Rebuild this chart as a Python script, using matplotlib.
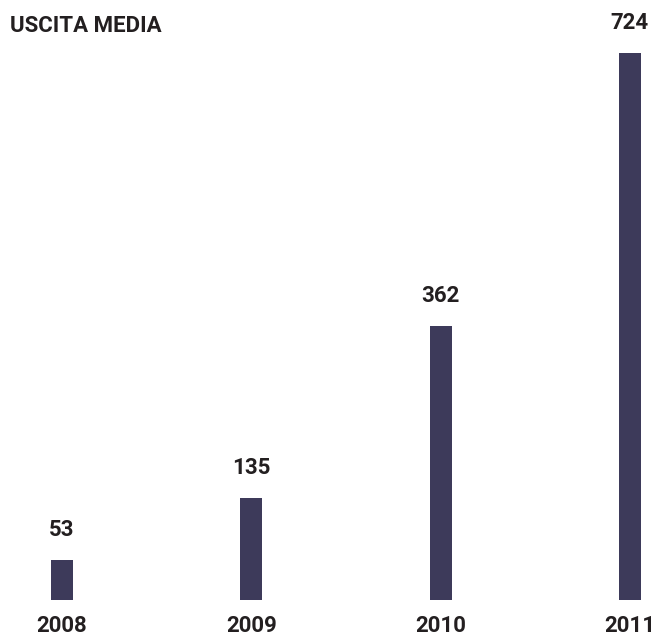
import matplotlib.pyplot as plt

years = ['2008', '2009', '2010', '2011']
values = [53, 135, 362, 724]

bar_color = '#3d3a5a'
text_color = '#231f20'
plt.rcParams['font.family'] = ['Roboto', 'DejaVu Sans']

W, H = 656, 636
fig = plt.figure(figsize=(W / 100, H / 100), dpi=100)

# axes spans full width, baseline 36 px above the bottom edge
ax = fig.add_axes([0, 36 / H, 1, 600 / H])
step = 189.3  # px between bar centres
first = 62    # px of first bar centre
ax.set_xlim(-first / step, (W - first) / step)
ax.set_ylim(0, values[-1] * 600 / 547)

xs = list(range(len(years)))
ax.bar(xs, values, width=22 / step, color=bar_color)

fs = 16
for x, v, yr in zip(xs, values, years):
    ax.annotate(str(v), (x, v), xytext=(0, 17.3), textcoords='offset points',
                ha='center', va='baseline', fontsize=fs, fontweight='bold',
                color=text_color)
    ax.annotate(yr, (x, 0), xytext=(0, -23), textcoords='offset points',
                ha='center', va='baseline', fontsize=fs, fontweight='bold',
                color=text_color, annotation_clip=False)

ax.axis('off')

fig.text(10 / W, 1 - 32 / H, 'USCITA MEDIA', ha='left', va='baseline',
         fontsize=fs, fontweight='bold', color=text_color)

fig.savefig('out.png', dpi=100)
